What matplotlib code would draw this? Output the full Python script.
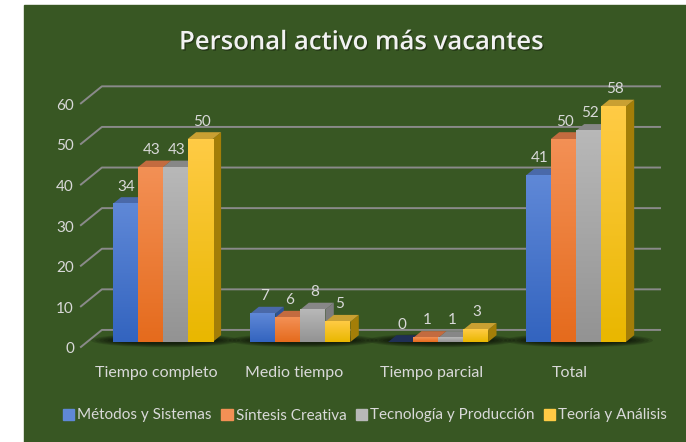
import numpy as np
import matplotlib
matplotlib.use('Agg')
import matplotlib.pyplot as plt
from matplotlib.patches import Polygon, Rectangle, Ellipse
from matplotlib.colors import LinearSegmentedColormap
import matplotlib.patheffects as pe

# datos
categorias = ['Tiempo completo', 'Medio tiempo', 'Tiempo parcial', 'Total']
series = ['Métodos y Sistemas', 'Síntesis Creativa', 'Tecnología y Producción', 'Teoría y Análisis']
metodos = [34, 7, 0, 41]
sintesis = [43, 6, 1, 50]
tecnologia = [43, 8, 1, 52]
teoria = [50, 5, 3, 58]
valores = [metodos, sintesis, tecnologia, teoria]
ticks = [0, 10, 20, 30, 40, 50, 60]

# colores: frente (abajo, arriba), lado, tapa
frente = [('#3364bf', '#5f88d7'), ('#e56b1d', '#f39055'),
          ('#939393', '#b8b8b8'), ('#e9b700', '#ffcb45')]
lado = ['#2d5297', '#b25a1f', '#7d7d7d', '#a37e08']
tapa = ['#4a69a9', '#c36b3f', '#878787', '#c9a032']
verde = '#385723'
gris_txt = '#d9d9d9'
gris_lin = '#8a8a8a'

plt.rcParams['font.family'] = ['Lato', 'DejaVu Sans']

fig = plt.figure(figsize=(6.86, 4.42), dpi=100, facecolor='white')
fig.patches.append(Rectangle((24 / 686, 0), 1 - 24 / 686, 1 - 5 / 442,
                             transform=fig.transFigure, color=verde, zorder=-10))
ax = fig.add_axes([0, 0, 1, 1])
ax.set_axis_off()

# escala (px por unidad) y profundidad 3D
PX, PY = 137.7, 4.06
DX, DY = 21 / PX, 17 / PY
d0, d1 = -0.29, 0.71       # borde frontal y pared trasera
bd = 0.4                   # profundidad de la barra
w = 25 / PX
XL = (87 - 162.7) / PX
XR = (660 - 162.7) / PX - d1 * DX


def P(x, v, d):
    return (x + d * DX, v + d * DY)


# cuadricula
for t in ticks:
    pts = [P(XL, t, d0), P(XL, t, d1), P(XR, t, d1)]
    ax.plot([p[0] for p in pts], [p[1] for p in pts], color=gris_lin, lw=1.4, zorder=1)
    ax.text(XL - 13 / PX, t + d0 * DY - 0.6, str(t), ha='right', va='center',
            color=gris_txt, fontsize=11)

n = len(categorias)
for i in range(n):
    # sombra difusa
    for s in range(6):
        ax.add_patch(Ellipse((i + 0.02, 0.4), 1.08 - s * 0.06, 3.4 - s * 0.35,
                             color='black', alpha=0.14, lw=0, zorder=2))
    for k in range(4):
        v = valores[k][i]
        x0 = i + (k - 2) * w
        x1 = x0 + w
        bx, by = bd * DX, bd * DY
        z = 5 + k * 3
        ax.add_patch(Polygon([(x1, 0), (x1 + bx, by), (x1 + bx, v + by), (x1, v)],
                             closed=True, color=lado[k], lw=0, zorder=z))
        ctapa = tapa[k] if v > 0 else '#1f2f55'
        ax.add_patch(Polygon([(x0, v), (x1, v), (x1 + bx, v + by), (x0 + bx, v + by)],
                             closed=True, color=ctapa, lw=0, zorder=z + 1))
        if v > 0:
            cmap = LinearSegmentedColormap.from_list('c%d' % k, frente[k])
            ax.imshow(np.linspace(0, 1, 64).reshape(-1, 1), cmap=cmap, origin='lower',
                      extent=[x0, x1, 0, v], aspect='auto', zorder=z + 2,
                      interpolation='bilinear')
        ax.text(x0 + w / 2 + 0.01, v + 4.3, str(v), ha='center', va='center',
                color=gris_txt, fontsize=11, zorder=30)
    ax.text(P(i, 0, d0)[0], -8.55, categorias[i], ha='center', va='baseline',
            color=gris_txt, fontsize=11.5)

ax.set_xlim(-162.7 / PX, (686 - 162.7) / PX)
ax.set_ylim(-100 / PY, 342 / PY)

fig.text(362 / 686, 1 - 49.3 / 442, 'Personal activo más vacantes', ha='center',
         va='baseline', color='#f2f2f2', fontsize=18.5, fontweight='semibold',
         family=['Open Sans', 'DejaVu Sans'],
         path_effects=[pe.withSimplePatchShadow(offset=(1, -1), shadow_rgbFace='black', alpha=0.35)])

handles = [Rectangle((0, 0), 1, 1, color=frente[k][1]) for k in range(4)]
leg = fig.legend(handles, series, loc='center', bbox_to_anchor=(365 / 686, 1 - 415.5 / 442),
                 ncol=4, frameon=False, fontsize=11, handlelength=0.75, handleheight=0.75,
                 handletextpad=0.2, columnspacing=0.6)
for t in leg.get_texts():
    t.set_color(gris_txt)

plt.savefig('out.png', dpi=100, facecolor='white')
